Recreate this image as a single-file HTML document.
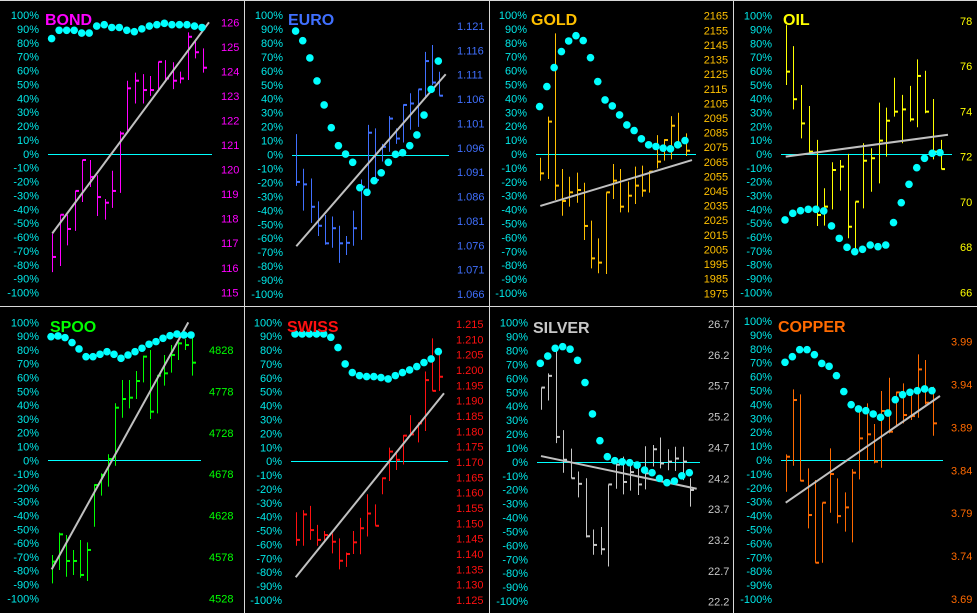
<!DOCTYPE html>
<html><head><meta charset="utf-8">
<style>
html,body{margin:0;padding:0;background:#000;}
svg{display:block;}
text{font-family:"Liberation Sans",Arial,sans-serif;}
</style></head>
<body>
<svg id="chart" width="977" height="613" viewBox="0 0 977 613" xmlns="http://www.w3.org/2000/svg">
<rect x="0" y="0" width="977" height="613" fill="#000"/>
</svg>
<script>
// ---------- DATA ----------
const pctTicks = [100,90,80,70,60,50,40,30,20,10,0,-10,-20,-30,-40,-50,-60,-70,-80,-90,-100];

const bondTicks = [126,125,124,123,122,121,120,119,118,117,116,115];
const bondHigh = [117.39,118.16,118.16,119.13,120.39,120.39,119.77,118.8,119.95,121.56,123.62,123.95,123.89,123.81,124.39,124.46,124.37,123.99,125.59,125.31,124.94];
const bondLow = [115.82,116.07,116.91,117.5,118.68,119.29,118.11,117.96,118.44,119.05,121.58,122.69,122.69,123.0,123.24,123.58,123.28,123.51,123.65,124.53,123.95];
const bondClose = [116.44,118.16,117.58,119.13,120.39,119.7,118.88,118.65,119.13,121.47,123.31,123.62,123.24,123.24,124.39,123.71,123.62,123.71,125.41,124.78,124.15];
const bondOsc = [83,89,89,89,87,87,92,93,91,91,89,88,90,92,93,94,93,93,93,92,91];
const bondTrend = [117.4,126.0];

const euroTicks = [1.121,1.116,1.111,1.106,1.101,1.096,1.091,1.086,1.081,1.076,1.071,1.066];
const euroHigh = [1.0988,1.0917,1.0897,1.0850,1.0822,1.0819,1.0800,1.0779,1.0831,1.0895,1.1007,1.1000,1.0968,1.1025,1.1000,1.1049,1.1072,1.1080,1.1157,1.1171,1.1116];
const euroLow = [1.0882,1.0831,1.0806,1.0779,1.0761,1.0755,1.0724,1.0740,1.0759,1.0771,1.0875,1.0894,1.0932,1.0952,1.0968,1.0971,1.0997,1.1003,1.1065,1.1089,1.1067];
const euroClose = [1.0890,1.0885,1.0839,1.0800,1.0764,1.0795,1.0764,1.0765,1.0795,1.0880,1.0991,1.0894,1.0962,1.1020,1.0979,1.1048,1.1051,1.1080,1.1138,1.1094,1.1067];
const euroOsc = [88.5,81.6,69.2,52.7,35.5,19.2,6.3,0.3,-5.6,-23.8,-27.1,-18.8,-13.1,-5.6,0.1,1.3,6.3,14,28.3,46.7,67];
const euroTrend = [1.0758,1.1111];

const goldTicks = [2165,2155,2145,2135,2125,2115,2105,2095,2085,2075,2065,2055,2045,2035,2025,2015,2005,1995,1985,1975];
const goldHigh = [2067.8,2095.9,2152.9,2060.1,2054.8,2057.6,2050.7,2024.7,2012.6,2044.1,2063.5,2060.1,2051.4,2061.7,2062.4,2058.7,2083.3,2080.4,2096.3,2098.6,2084.5];
const goldLow = [2052.1,2053.2,2038.9,2028.1,2034.3,2037.0,2011.5,1992.1,1988.7,1988.2,2039.5,2030.4,2030.4,2036.1,2041.1,2043.9,2060.5,2065.8,2066.7,2074.2,2069.0];
const goldClose = [2057.1,2092.5,2048.7,2038.2,2044.1,2045.7,2021.1,1998.9,1996.0,2044.1,2052.1,2034.3,2041.8,2048.7,2045.3,2058.3,2065.1,2079.9,2089.7,2076.0,2072.6];
const goldOsc = [34.1,48.5,62.2,73.7,81.3,85.1,81.6,69.3,52.1,38.9,34.6,28.1,20.9,16.9,10.9,6.6,5.4,4.2,3.7,6.6,9.7];
const goldTrend = [2034.8,2066.2];

const oilTicks = [78,76,74,72,70,68,66];
const oilHigh = [77.82,76.89,75.17,74.24,72.74,70.60,71.75,71.85,72.12,70.01,72.59,72.37,74.39,74.17,75.49,74.73,75.13,76.30,75.80,74.55,72.74];
const oilLow = [75.17,74.09,72.81,72.15,68.93,68.95,69.67,70.50,68.39,67.65,69.71,70.45,70.82,72.0,73.77,72.59,73.55,73.30,73.92,71.88,71.45];
const oilClose = [75.76,74.54,73.47,72.22,69.42,69.79,71.41,71.56,68.90,70.01,71.82,71.93,72.71,73.59,73.99,74.09,73.65,75.57,73.99,72.22,71.45];
const oilOsc = [-47.7,-42.9,-41,-40,-40,-41.2,-52,-61,-67.5,-70.6,-68.9,-65.8,-67,-65.8,-49.6,-35.2,-21.9,-9.9,-3.1,0.5,1];
const oilTrend = [72.0,72.97];

const spooTicks = [4828,4778,4728,4678,4628,4578,4528];
const spooHigh = [4580.3,4607.3,4604.5,4586.4,4598.5,4595.6,4665.7,4679.0,4702.0,4763.6,4791.8,4791.8,4802.6,4821.2,4828,4797.8,4822,4834,4837.3,4841.3,4849.3];
const spooLow = [4546.1,4562.2,4554.1,4556.2,4552.9,4548.9,4614.5,4652.0,4662.9,4688.2,4746.2,4757.5,4768.8,4788.9,4744.6,4751.5,4785,4800.6,4815.9,4828,4797];
const spooClose = [4572.3,4605.3,4573.1,4573.1,4556.2,4586.4,4664.9,4677.0,4696.3,4758.3,4768.8,4770.4,4790.5,4820.0,4753.5,4797.0,4799.8,4822,4836,4834,4812.7];
const spooOsc = [89.6,90.1,88.9,85.3,80.7,75.1,75.1,76.8,78.7,76.8,73.9,76.3,78.7,81.2,84.1,86,88.4,90.3,91.5,90.8,90.8];
const spooTrend = [4563,4861.4];

const swissTicks = [1.215,1.210,1.205,1.200,1.195,1.190,1.185,1.180,1.175,1.170,1.165,1.160,1.155,1.150,1.145,1.140,1.135,1.130,1.125];
const swissHigh = [1.1536,1.1543,1.1557,1.1495,1.1475,1.1467,1.1451,1.1405,1.1475,1.1518,1.1595,1.1562,1.1649,1.1747,1.1736,1.1788,1.1853,1.1829,1.1995,1.2103,1.2049];
const swissLow = [1.1427,1.1427,1.1446,1.1427,1.1438,1.1402,1.1350,1.1358,1.1400,1.1399,1.1457,1.1492,1.1595,1.1638,1.1674,1.1692,1.1790,1.1764,1.1801,1.1932,1.1932];
const swissClose = [1.1446,1.1529,1.1478,1.1446,1.1462,1.1440,1.1378,1.1400,1.1438,1.1484,1.1532,1.1492,1.1647,1.1734,1.1707,1.1786,1.1790,1.1826,1.1967,1.1932,1.1978];
const swissOsc = [91.6,91.6,91.6,91.6,91.6,89.2,81.8,70,63.8,61.6,60.9,60.9,60.2,59.2,61.6,63.8,65.7,68.1,71,73.6,78.9];
const swissTrend = [1.1324,1.1924];

const silverTicks = [26.7,26.2,25.7,25.2,24.7,24.2,23.7,23.2,22.7,22.2];
const silverHigh = [25.67,25.90,26.33,24.98,24.68,24.31,24.20,23.37,23.41,24.10,24.47,24.55,24.51,24.44,24.72,24.74,24.86,24.67,24.71,24.71,24.20];
const silverLow = [25.31,25.46,24.77,24.29,24.20,23.89,23.24,22.96,22.96,22.77,24.03,23.94,24.00,23.93,24.02,24.39,24.36,24.33,24.32,24.17,23.74];
const silverClose = [25.67,25.86,24.87,24.50,24.20,24.11,23.26,23.12,23.05,24.10,24.42,24.14,24.30,24.10,24.28,24.67,24.44,24.47,24.52,24.47,24.01];
const silverOsc = [70.8,76,81.6,82.8,81,73,57,34.4,15.2,3.7,0.8,0,-0.6,-2.3,-5.9,-7.8,-11.9,-15,-13.8,-10,-7.8];
const silverTrend = [24.56,24.03];

const copperTicks = [3.99,3.94,3.89,3.84,3.79,3.74,3.69];
const copperHigh = [3.8586,3.9344,3.9286,3.8423,3.8287,3.8023,3.8656,3.8307,3.8143,3.8415,3.9123,3.9181,3.8940,3.9325,3.9480,3.9317,3.9414,3.9348,3.9752,3.9686,3.9375];
const copperLow = [3.8151,3.8454,3.8275,3.7724,3.7323,3.7323,3.7906,3.7782,3.7685,3.7560,3.8295,3.8520,3.8481,3.8431,3.8831,3.8928,3.8948,3.8987,3.9014,3.9169,3.8804];
const copperClose = [3.8559,3.9220,3.8279,3.7879,3.7323,3.8023,3.8357,3.7867,3.7968,3.8373,3.8773,3.8820,3.8501,3.9092,3.8851,3.9309,3.9045,3.9033,3.9577,3.9189,3.8948];
const copperOsc = [70.3,74.3,79.4,79.4,75.8,69.5,67.4,60.7,49.2,39.8,36.7,35.5,33.1,30.7,33.8,43.4,47,48.7,49.9,51.1,49.9];
const copperTrend = [3.8023,3.9267];

// ---------- LAYOUT ----------
const NS = 'http://www.w3.org/2000/svg';
const svg = document.getElementById('chart');
function mk(tag, attrs, parent){
  const e = document.createElementNS(NS, tag);
  for (const k in attrs) e.setAttribute(k, attrs[k]);
  (parent||svg).appendChild(e);
  return e;
}

const panels = [
 {key:'bond', title:'BOND', color:'#ff00ff', ticks:bondTicks, dec:0, high:bondHigh, low:bondLow, close:bondClose, osc:bondOsc, trend:bondTrend, tx:45, ty:25, pctR:39, prL:221, pT:15, pB:292.5, prTopY:22.3, prBotY:292.3, x0:52.3, x1:202.7, trendX1:209, zl:48, zr:212},
 {key:'euro', title:'EURO', color:'#4070ff', ticks:euroTicks, dec:3, high:euroHigh, low:euroLow, close:euroClose, osc:euroOsc, trend:euroTrend, tx:288, ty:25, pctR:283, prL:457, pT:15, pB:294, prTopY:26, prBotY:294, x0:296.3, x1:439, trendX1:445.7, zl:292, zr:449},
 {key:'gold', title:'GOLD', color:'#ffc000', ticks:goldTicks, dec:0, high:goldHigh, low:goldLow, close:goldClose, osc:goldOsc, trend:goldTrend, tx:531, ty:25, pctR:527, prL:703.7, pT:15, pB:293, prTopY:15.7, prBotY:293.3, x0:540.3, x1:685.7, trendX1:692, zl:536, zr:696},
 {key:'oil', title:'OIL', color:'#ffff00', ticks:oilTicks, dec:0, high:oilHigh, low:oilLow, close:oilClose, osc:oilOsc, trend:oilTrend, tx:783, ty:25, pctR:772, prL:960, pT:15.7, pB:292.3, prTopY:21, prBotY:292.3, x0:785.7, x1:940.7, trendX1:948, zl:781, zr:952},
 {key:'spoo', title:'SPOO', color:'#00ff00', ticks:spooTicks, dec:0, high:spooHigh, low:spooLow, close:spooClose, osc:spooOsc, trend:spooTrend, tx:50, ty:332, pctR:39, prL:209, pT:322.3, pB:598.3, prTopY:350, prBotY:598.3, x0:51.7, x1:191.7, trendX1:188.3, zl:48, zr:201},
 {key:'swiss', title:'SWISS', color:'#ff1010', ticks:swissTicks, dec:3, high:swissHigh, low:swissLow, close:swissClose, osc:swissOsc, trend:swissTrend, tx:287, ty:332, pctR:282, prL:456, pT:322.3, pB:600, prTopY:324, prBotY:600, x0:295.7, x1:439, trendX1:444, zl:291, zr:448},
 {key:'silver', title:'SILVER', color:'#c8c8c8', ticks:silverTicks, dec:1, high:silverHigh, low:silverLow, close:silverClose, osc:silverOsc, trend:silverTrend, tx:533, ty:333, pctR:528, prL:708, pT:322.7, pB:601, prTopY:324, prBotY:601.7, x0:541, x1:690, trendX1:696.7, zl:537, zr:700},
 {key:'copper', title:'COPPER', color:'#ff6a00', ticks:copperTicks, dec:2, high:copperHigh, low:copperLow, close:copperClose, osc:copperOsc, trend:copperTrend, tx:778, ty:332, pctR:772, prL:951, pT:321, pB:599, prTopY:341.7, prBotY:599, x0:785.7, x1:932.7, trendX1:940, zl:781, zr:943}
];

panels.forEach(p => {
  const g = mk('g', {});
  
  
  const n = p.close.length;
  const xAt = i => p.x0 + (p.x1 - p.x0) * i / (n - 1);
  const pctY = v => p.pT + (100 - v) / 200 * (p.pB - p.pT);
  const tTop = p.ticks[0], tBot = p.ticks[p.ticks.length - 1];
  const priceY = v => p.prTopY + (tTop - v) / (tTop - tBot) * (p.prBotY - p.prTopY);

  pctTicks.forEach(v => {
    const t = mk('text', {x:p.pctR, y:pctY(v)+4, 'text-anchor':'end', 'font-size':11, fill:'#00e8e8'}, g);
    t.textContent = v + '%';
    
    
  });
  p.ticks.forEach(v => {
    const t = mk('text', {x:p.prL, y:priceY(v)+4, 'font-size':11, fill:p.color}, g);
    t.textContent = v.toFixed(p.dec);
    
    
  });
  const zy = Math.round(pctY(0)) + 0.5;
  const z = mk('line', {x1:p.zl, x2:p.zr, y1:zy, y2:zy, stroke:'#00ffff', 'stroke-width':1}, g);
  
  
  for (let i = 0; i < n; i++) {
    const x = Math.round(xAt(i)) + 0.5;
    const b = mk('line', {x1:x, x2:x, y1:priceY(p.high[i]), y2:priceY(p.low[i]), stroke:p.color, 'stroke-width':1}, g);
    
    
    const c = mk('line', {x1:x, x2:x+3.5, y1:priceY(p.close[i]), y2:priceY(p.close[i]), stroke:p.color, 'stroke-width':2}, g);
    
    
  }
  const tl = mk('line', {x1:xAt(0), x2:p.trendX1, y1:priceY(p.trend[0]), y2:priceY(p.trend[1]), stroke:'#c0c0c0', 'stroke-width':2}, g);
  
  
  for (let i = 0; i < n; i++) {
    const d = mk('circle', {cx:xAt(i)-0.7, cy:pctY(p.osc[i]), r:3.8, fill:'#00ffff'}, g);
    
    
  }
  const tt = mk('text', {x:p.tx, y:p.ty, 'font-size':16, 'font-weight':'bold', fill:p.color}, g);
  tt.textContent = p.title;
  
  
});

[[244.5,0,244.5,613],[489.5,0,489.5,613],[733.5,0,733.5,613],[0,306.5,977,306.5],[0,0.5,977,0.5]].forEach(l => {
  const e = mk('line', {x1:l[0], y1:l[1], x2:l[2], y2:l[3], stroke:'#d8d8d8', 'stroke-width':1});
  
  
});
</script>
</body></html>
